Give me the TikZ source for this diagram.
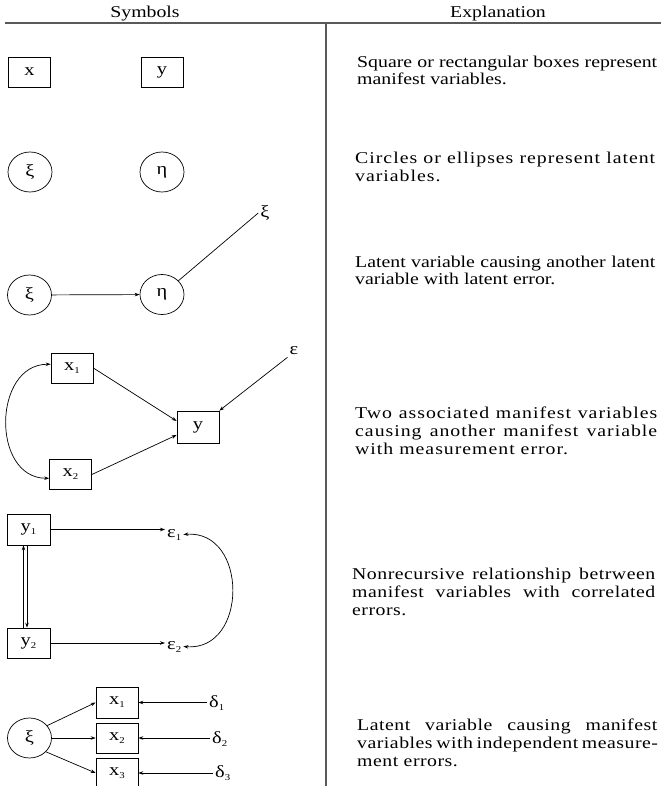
\documentclass[tikz,border=0pt]{standalone}
\usepackage{fontspec}
\setmainfont{Liberation Serif}[FakeStretch=1.2]
\newfontfamily\spfont{Liberation Serif}[FakeStretch=1.2,LetterSpace=3]
\newfontfamily\spwfont{Liberation Serif}[FakeStretch=1.2,LetterSpace=6]
\usetikzlibrary{arrows.meta,shapes.geometric}
\newcommand{\sbs}[1]{\raisebox{-3pt}{\fontsize{9}{9}\selectfont #1}}
\newcommand{\symf}{\fontsize{17}{17}\selectfont}
\newcommand{\hdrf}{\fontsize{16.5}{17}\selectfont}
\newcommand{\expf}{\fontsize{16.5}{17}\selectfont}
\newcommand{\expsf}{\spfont\fontsize{16.5}{18}\selectfont}
\newcommand{\expwf}{\spwfont\fontsize{16.5}{18}\selectfont}
\newcommand{\para}[2]{\parbox[t]{#1}{#2}}
\begin{document}
\begin{tikzpicture}[x=1pt,y=-1pt,
  every node/.style={inner sep=0pt},
  mvar/.style={draw,line width=0.7pt,minimum width=42pt,minimum height=30pt,font=\symf},
  lvar/.style={draw,line width=0.7pt,ellipse,minimum width=44pt,minimum height=40pt,font=\symf},
  lbl/.style={font=\symf,inner sep=2pt},
  con/.style={line width=0.7pt,-{Stealth[length=5pt,width=3.5pt]}},
  dcon/.style={line width=0.7pt,{Stealth[length=5pt,width=3.5pt]}-{Stealth[length=5pt,width=3.5pt]}},
  rulel/.style={line width=1.3pt,draw=black!65},
  expl/.style={anchor=base west},
]
\useasboundingbox (0,0) rectangle (661,786);
% header
\node[font=\hdrf,anchor=base] (hsym) at (145,18) {Symbols};
\node[font=\hdrf,anchor=base] (hexp) at (498,18) {Explanation};
\coordinate (hl) at (5,23);
\coordinate (hr) at (661,23);
\coordinate (vt) at (326,23);
\coordinate (vb) at (326,786);
\draw[rulel] (hl) -- (hr);
\draw[rulel] (vt) -- (vb);

% row 1
\node[mvar] (bx) at (29.5,72) {x};
\node[mvar] (by) at (162,72) {y};
\node[expl] (t1) at (357,68) {\para{300pt}{\expf Square or rectangular boxes represent\linebreak manifest variables.}};

% row 2
\node[lvar] (xi2) at (30,172) {ξ};
\node[lvar] (eta2) at (162,172) {η};
\node[expl] (t2) at (355,164) {\para{300pt}{\expwf Circles or ellipses represent latent\linebreak variables.}};

% row 3
\node[lvar] (xi3) at (29.5,295) {ξ};
\node[lvar] (eta3) at (162,294.5) {η};
\node[lbl] (zeta3) at (265,213) {ξ};
\draw[con] (xi3) -- (eta3);
\draw[line width=0.7pt] (eta3.40) -- (zeta3.west);
\node[expl] (t3) at (355,267) {\para{300pt}{\expf Latent variable causing another latent\linebreak variable with latent error.}};

% row 4
\node[mvar] (x1) at (72,368) {x\sbs{1}};
\node[mvar,minimum height=32pt] (y4) at (198,427) {y};
\node[mvar] (x2) at (70.5,474.5) {x\sbs{2}};
\node[lbl] (eps4) at (294,351) {ε};
\draw[con] (eps4.south west) -- (y4.north east);
\draw[con] (x1.east) -- ([yshift=6pt]y4.west);
\draw[con] (x2.east) -- ([yshift=-8pt]y4.west);
\draw[dcon] (x1.170) .. controls +(-58,0) and +(-58,0) .. (x2.190);
\node[expl] (t4) at (355,418) {\para{302pt}{\expwf Two associated manifest variables\linebreak causing another manifest variable\linebreak with measurement error.}};

% row 5
\node[mvar,minimum width=43pt,minimum height=31pt] (y1) at (28.5,529.5) {y\sbs{1}};
\node[mvar,minimum width=43pt] (y2) at (28.5,643) {y\sbs{2}};
\node[lbl,anchor=base west] (e1) at (165,537) {ε\sbs{1}};
\node[lbl,anchor=base west] (e2) at (165,649) {ε\sbs{2}};
\draw[con] (y1.east) -- (y1.east -| e1.west);
\draw[con] (y2.east) -- (y2.east -| e2.west);
\draw[dcon] (e1.east) .. controls +(65,-5) and +(65,5) .. (e2.east);
\draw[con] ([xshift=-5pt]y2.north) -- ([xshift=-5pt]y1.south);
\draw[con] ([xshift=-1.5pt]y1.south) -- ([xshift=-1.5pt]y2.north);
\node[expl] (t5) at (352,579) {\para{303pt}{\expsf Nonrecursive relationship betrween\linebreak manifest variables with correlated\linebreak errors.}};

% row 6
\node[lvar] (xi6) at (29.5,738) {ξ};
\node[mvar,minimum height=31pt] (x61) at (117,702.5) {x\sbs{1}};
\node[mvar] (x62) at (117,738) {x\sbs{2}};
\node[mvar] (x63) at (117,773) {x\sbs{3}};
\node[lbl,anchor=base west] (d1) at (207,707) {δ\sbs{1}};
\node[lbl,anchor=base west] (d2) at (210,743) {δ\sbs{2}};
\node[lbl,anchor=base west] (d3) at (213,777) {δ\sbs{3}};
\draw[con] (d1.west |- x61.east) -- (x61.east);
\draw[con] (d2.west |- x62.east) -- (x62.east);
\draw[con] (d3.west |- x63.east) -- (x63.east);
\draw[con] (xi6.35) -- (x61.west);
\draw[con] (xi6.east) -- (x62.west);
\draw[con] (xi6.-40) -- (x63.west);
\node[expl] (t6) at (357,730) {\para{300pt}{\expsf Latent variable causing manifest\linebreak variables with independent measure-\linebreak ment errors.}};
\end{tikzpicture}
\end{document}
